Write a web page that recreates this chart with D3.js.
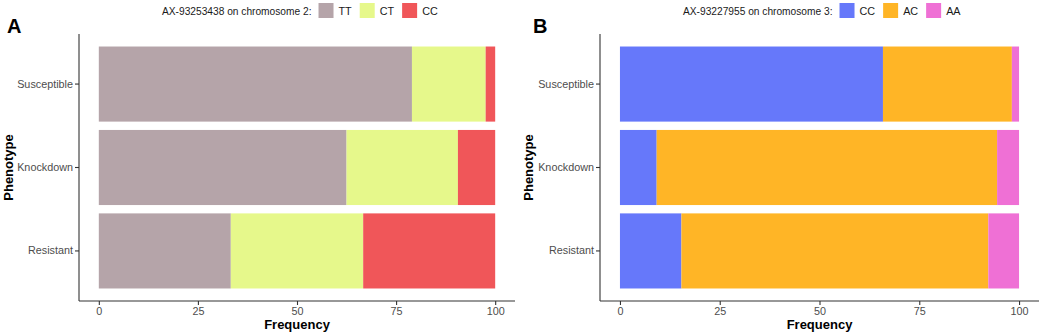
<!DOCTYPE html>
<html>
<head>
<meta charset="utf-8">
<script src="https://cdn.jsdelivr.net/npm/d3@7"></script>
<style>
  body { margin: 0; background: #fff; }
  svg { font-family: "Liberation Sans", Arial, sans-serif; }
</style>
</head>
<body>
<svg id="chart" width="1045" height="334"></svg>
<script>
// phenotypes, top to bottom
var phenotypes = ["Susceptible", "Knockdown", "Resistant"];
var xTicks = [0, 25, 50, 75, 100];

// panel A: AX-93253438 on chromosome 2
var genoA = ["TT", "CT", "CC"];
var ttA = [79.0, 62.5, 33.3];
var ctA = [18.6, 28.1, 33.4];
var ccA = [2.4, 9.4, 33.3];
var colorsA = ["#b5a4a9", "#e6f88b", "#f05659"];

// panel B: AX-93227955 on chromosome 3
var genoB = ["CC", "AC", "AA"];
var ccB = [65.9, 9.2, 15.4];
var acB = [32.3, 85.3, 76.9];
var aaB = [1.8, 5.5, 7.7];
var colorsB = ["#6678fa", "#ffb526", "#ef70d5"];

var svg = d3.select("#chart");

function drawPanel(opts) {
  var g = svg.append("g");
  var left = opts.left, right = opts.right, top = 34, bottom = 301;

  var x = d3.scaleLinear().domain([-5, 105]).range([left, right]);
  var y = d3.scaleBand().domain(phenotypes).range([top, bottom])
    .paddingInner(0.1).paddingOuter(0.15);

  // stacked rows
  var rows = phenotypes.map(function(p, i) {
    var r = { phen: p };
    opts.keys.forEach(function(k, j) { r[k] = opts.series[j][i]; });
    return r;
  });
  var stack = d3.stack().keys(opts.keys)(rows);

  g.selectAll("g.layer")
    .data(stack)
    .enter()
    .append("g")
    .attr("fill", function(d, i) { return opts.colors[i]; })
    .selectAll("rect")
    .data(function(d) { return d; })
    .enter()
    .append("rect")
    .attr("x", function(d) { return x(d[0]); })
    .attr("y", function(d) { return y(d.data.phen); })
    .attr("width", function(d) { return x(d[1]) - x(d[0]); })
    .attr("height", y.bandwidth());

  var xAxis = d3.axisBottom(x).tickValues(xTicks).tickSize(4).tickSizeOuter(0).tickPadding(2);
  var yAxis = d3.axisLeft(y).tickSize(4).tickSizeOuter(0).tickPadding(2);

  var gx = g.append("g")
    .attr("transform", "translate(0," + bottom + ")")
    .call(xAxis);
  gx.select(".domain").attr("d", "M" + left + ",0H" + right);

  var gy = g.append("g")
    .attr("transform", "translate(" + left + ",0)")
    .call(yAxis);
  gy.select(".domain").attr("d", "M0," + top + "V" + bottom);

  [gx, gy].forEach(function(a) {
    a.select(".domain").attr("stroke", "#333").attr("stroke-width", 1.1);
    a.selectAll(".tick line").attr("stroke", "#333").attr("stroke-width", 1.1);
    a.selectAll(".tick text").attr("fill", "#4d4d4d").style("font-size", "10.8px");
  });

  // axis titles
  g.append("text")
    .attr("x", (x(0) + x(100)) / 2)
    .attr("y", 329)
    .attr("text-anchor", "middle")
    .style("font-size", "13px")
    .style("font-weight", "bold")
    .text("Frequency");

  g.append("text")
    .attr("transform", "translate(" + opts.titleX + "," + ((top + bottom) / 2) + ") rotate(-90)")
    .attr("text-anchor", "middle")
    .style("font-size", "13px")
    .style("font-weight", "bold")
    .text("Phenotype");

  // panel letter
  g.append("text")
    .attr("x", opts.letterX)
    .attr("y", 33)
    .style("font-size", "20px")
    .style("font-weight", "bold")
    .text(opts.letter);

  // legend
  var lg = g.append("g");
  var title = lg.append("text")
    .attr("x", opts.legendX)
    .attr("y", 15)
    .attr("fill", "#1a1a1a")
    .style("font-size", "10.2px")
    .text(opts.title);
  var cx = opts.legendX + title.node().getComputedTextLength() + 7;
  opts.keys.forEach(function(k, i) {
    lg.append("rect")
      .attr("x", cx).attr("y", 3)
      .attr("width", 15).attr("height", 15)
      .attr("fill", opts.colors[i]);
    var t = lg.append("text")
      .attr("x", cx + 20)
      .attr("y", 15)
      .attr("fill", "#1a1a1a")
      .style("font-size", "10.8px")
      .text(k);
    cx += 20 + t.node().getComputedTextLength() + 8;
  });
}

drawPanel({
  letter: "A", letterX: 7, titleX: 13, left: 79, right: 515,
  keys: genoA, series: [ttA, ctA, ccA], colors: colorsA,
  title: "AX-93253438 on chromosome 2:", legendX: 162
});

drawPanel({
  letter: "B", letterX: 533, titleX: 533, left: 600, right: 1039,
  keys: genoB, series: [ccB, acB, aaB], colors: colorsB,
  title: "AX-93227955 on chromosome 3:", legendX: 683
});
</script>
</body>
</html>
